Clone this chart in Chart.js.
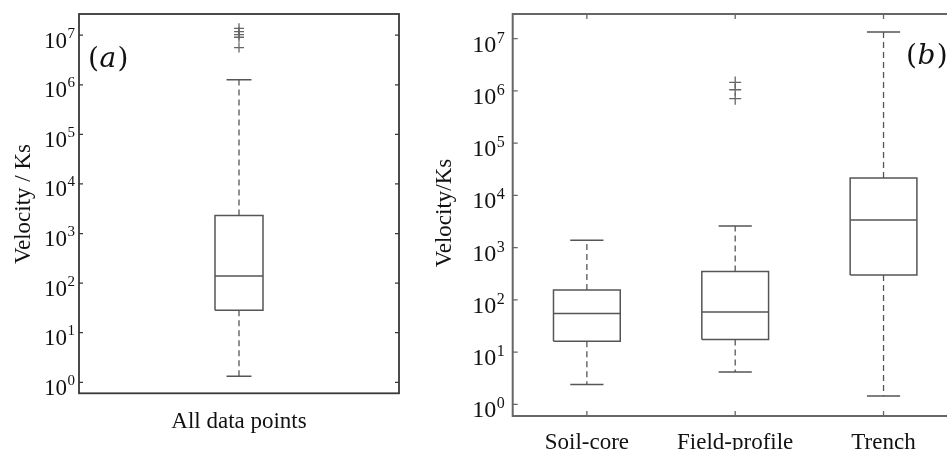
<!DOCTYPE html>
<html>
<head>
<meta charset="utf-8">
<script src="https://cdn.jsdelivr.net/npm/chart.js@4.4.0/dist/chart.umd.min.js"></script>
<style>
  html, body { margin: 0; padding: 0; background: #fff; overflow: hidden; }
  #wrap { position: relative; width: 947px; height: 450px; overflow: hidden; }
  #panelA { position: absolute; left: 0; top: 0; }
  #panelB { position: absolute; left: 420px; top: 0; }
</style>
</head>
<body>
<div id="wrap">
  <canvas id="panelA" width="420" height="450" style="width:420px;height:450px"></canvas>
  <canvas id="panelB" width="560" height="450" style="width:560px;height:450px"></canvas>
</div>
<script>
// decades shown on the y axis (10^0 ... 10^7)
const tickExp = [0, 1, 2, 3, 4, 5, 6, 7];

// (a) all data points together
const allLabel = ['All data points'];
const allLow = [1.32];
const allQ1 = [28.5];
const allMed = [139];
const allQ3 = [2320];
const allHigh = [1.26e6];
const allOutliers = [[1.38e7, 1.18e7, 1.03e7, 9.1e6, 5.64e6]];

// (b) split by measuring method
const sites = ['Soil-core', 'Field-profile', 'Trench'];
const siteLow = [2.4, 4.15, 1.45];
const siteQ1 = [16.2, 17.4, 298];
const siteMed = [55, 58.6, 3380];
const siteQ3 = [154, 350, 21400];
const siteHigh = [1380, 2590, 1.34e7];
const siteOutliers = [[], [1.45e6, 1.05e6, 7.08e5], []];

const boxColor = '#555';
const serif = "'Liberation Serif', 'Times New Roman', serif";

// builds the line / scatter datasets that make up a matlab-style boxplot
function boxDatasets(low, q1, med, q3, high, outliers, halfBox, halfCap, markR) {
  const box = [], medians = [], whiskers = [], caps = [], outl = [];
  low.forEach((lo, i) => {
    const x = i + 1;
    box.push({x: x - halfBox, y: q1[i]}, {x: x + halfBox, y: q1[i]},
             {x: x + halfBox, y: q3[i]}, {x: x - halfBox, y: q3[i]},
             {x: x - halfBox, y: q1[i]}, {x: x, y: null});
    medians.push({x: x - halfBox, y: med[i]}, {x: x + halfBox, y: med[i]}, {x: x, y: null});
    whiskers.push({x: x, y: q3[i]}, {x: x, y: high[i]}, {x: x, y: null},
                  {x: x, y: q1[i]}, {x: x, y: lo}, {x: x, y: null});
    caps.push({x: x - halfCap, y: high[i]}, {x: x + halfCap, y: high[i]}, {x: x, y: null},
              {x: x - halfCap, y: lo}, {x: x + halfCap, y: lo}, {x: x, y: null});
    outliers[i].forEach(v => outl.push({x: x, y: v}));
  });
  const line = (data, extra) => Object.assign({
    type: 'line', data: data, borderColor: boxColor, borderWidth: 1.5,
    pointRadius: 0, fill: false, tension: 0, spanGaps: false
  }, extra || {});
  return [
    line(whiskers, {borderDash: [6, 4], borderWidth: 1.3}),
    line(caps),
    line(box),
    line(medians),
    {type: 'scatter', data: outl, pointStyle: 'cross', pointRadius: markR,
     borderColor: '#666', borderWidth: 1.3, showLine: false}
  ];
}

// frame, inward ticks, 10^n labels, titles - all placed from the chart scales
const axesDecor = {
  id: 'axesDecor',
  afterDraw(chart, args, o) {
    const {ctx, chartArea: a} = chart;
    const x = chart.scales.x, y = chart.scales.y;
    ctx.save();
    ctx.strokeStyle = o.frameColor;
    ctx.lineWidth = o.frameWidth;
    ctx.strokeRect(a.left, a.top, a.right - a.left, a.bottom - a.top);

    ctx.lineWidth = 1.3;
    ctx.fillStyle = '#111';
    tickExp.forEach(e => {
      const py = y.getPixelForValue(Math.pow(10, e));
      ctx.beginPath();
      ctx.moveTo(a.left, py); ctx.lineTo(a.left + o.tickLen, py);
      ctx.moveTo(a.right, py); ctx.lineTo(a.right - o.tickLen, py);
      ctx.stroke();
      const right = a.left - o.labelGap;
      ctx.textAlign = 'right';
      ctx.textBaseline = 'alphabetic';
      ctx.font = o.supSize + 'px ' + serif;
      const supW = ctx.measureText(String(e)).width;
      ctx.fillText(String(e), right, py + o.supDy);
      ctx.font = o.baseSize + 'px ' + serif;
      ctx.fillText('10', right - supW - 0.5, py + o.baseDy);
    });

    o.categories.forEach((c, i) => {
      const px = x.getPixelForValue(i + 1);
      if (o.xTicks) {
        ctx.beginPath();
        ctx.moveTo(px, a.bottom); ctx.lineTo(px, a.bottom - o.tickLen);
        ctx.moveTo(px, a.top); ctx.lineTo(px, a.top + o.tickLen);
        ctx.stroke();
      }
      ctx.font = o.labelSize + 'px ' + serif;
      ctx.textAlign = 'center';
      ctx.fillText(c, px, o.catBaseline);
    });

    // y axis title
    ctx.save();
    ctx.translate(o.titleX, o.titleY);
    ctx.rotate(-Math.PI / 2);
    ctx.textAlign = 'center';
    ctx.textBaseline = 'middle';
    ctx.font = o.labelSize + 'px ' + serif;
    ctx.fillText(o.title, 0, 0);
    ctx.restore();

    // panel letter: upright brackets, italic letter
    ctx.textAlign = 'left';
    ctx.textBaseline = 'alphabetic';
    let lx = o.letterX;
    const parts = [['(', ''], [o.letter, 'italic '], [')', '']];
    parts.forEach(p => {
      ctx.font = p[1] + '28px "DejaVu Serif", serif';
      ctx.fillText(p[0], lx, o.letterY);
      lx += ctx.measureText(p[0]).width + (p[1] ? 1.5 : 0.5);
    });
    ctx.restore();
  }
};

function makeChart(id, datasets, xMax, yLogMin, yLogMax, padding, decor) {
  return new Chart(document.getElementById(id), {
    data: {datasets: datasets},
    options: {
      responsive: false,
      animation: false,
      layout: {padding: padding},
      plugins: {legend: {display: false}, tooltip: {enabled: false}, axesDecor: decor},
      scales: {
        x: {type: 'linear', min: 0.5, max: xMax, display: false},
        y: {type: 'logarithmic', min: Math.pow(10, yLogMin), max: Math.pow(10, yLogMax), display: false}
      }
    },
    plugins: [axesDecor]
  });
}

makeChart('panelA',
  boxDatasets(allLow, allQ1, allMed, allQ3, allHigh, allOutliers, 0.075, 0.039, 5),
  1.5, -0.201, 7.428,
  {left: 79, right: 21, top: 14, bottom: 56.7},
  {frameColor: '#383838', frameWidth: 1.8, tickLen: 4, labelGap: 4,
   baseSize: 23, supSize: 15, baseDy: 12.5, supDy: 2.5,
   categories: allLabel, xTicks: false, catBaseline: 428, labelSize: 23,
   title: 'Velocity / Ks', titleX: 24, titleY: 204,
   letter: 'a', letterX: 88, letterY: 67});

makeChart('panelB',
  boxDatasets(siteLow, siteQ1, siteMed, siteQ3, siteHigh, siteOutliers, 0.225, 0.112, 6),
  3.5, -0.196, 7.471,
  {left: 92.7, right: 22.3, top: 14, bottom: 34},
  {frameColor: '#666', frameWidth: 2, tickLen: 5, labelGap: 8,
   baseSize: 24, supSize: 16, baseDy: 13, supDy: 4,
   categories: sites, xTicks: true, catBaseline: 448.5, labelSize: 23,
   title: 'Velocity/Ks', titleX: 25, titleY: 213,
   letter: 'b', letterX: 486, letterY: 64});
</script>
</body>
</html>
